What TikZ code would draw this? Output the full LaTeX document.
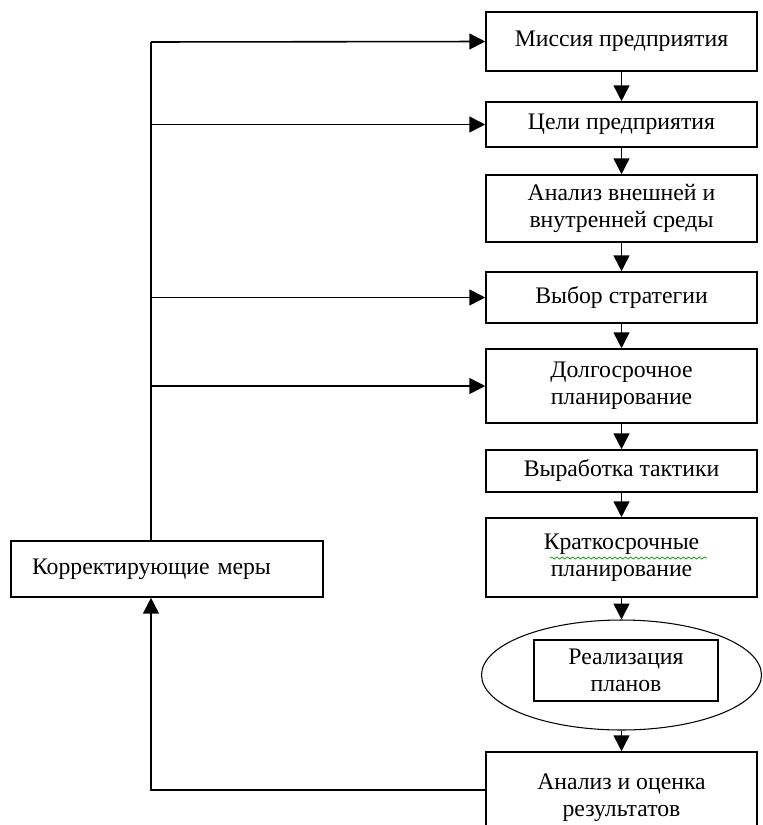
\documentclass[tikz,border=0pt]{standalone}
\usepackage{fontspec}
\setmainfont{Liberation Serif}
\usetikzlibrary{arrows.meta,shapes.geometric,decorations.pathmorphing}

\tikzset{
    blk/.style={draw, line width=0.9pt, minimum width=5.42cm, align=center, inner sep=2pt},
    arr/.style={line width=0.9pt, -{Triangle[length=9pt,width=9pt]}}
}

\begin{document}
\begin{tikzpicture}[x=0.02cm, y=-0.02cm, font=\fontsize{13.5}{15.5}\selectfont]
        \useasboundingbox (0,0) rectangle (763,825);
        \clip (0,0) rectangle (763,825);
        \node[blk, minimum height=1.18cm] (mission) at (621.5,41.5) {Миссия предприятия};
        \node[blk, minimum height=0.9cm] (goals) at (621.5,124.5) {Цели предприятия};
        \node[blk, minimum height=1.34cm] (env) at (621.5,208.5) {Анализ внешней и\\ внутренней среды};
        \node[blk, minimum height=1.02cm] (strat) at (621.5,297.5) {Выбор стратегии};
        \node[blk, minimum height=1.48cm] (longplan) at (621.5,386) {Долгосрочное\\ планирование};
        \node[blk, minimum height=0.84cm] (tactics) at (621.5,471) {Выработка тактики};
        \node[blk, minimum height=1.58cm] (shortplan) at (621.5,557.5) {Краткосрочные\\ планирование};
        \node[draw, ellipse, line width=0.6pt, minimum width=5.6cm, minimum height=2.2cm] (implell) at (621.5,675) {};
        \node[draw, line width=0.9pt, minimum width=3.68cm, minimum height=1.22cm, align=center, inner sep=2pt] (impl) at (626,670.5) {Реализация\\ планов};
        \node[blk, minimum height=1.84cm] (results) at (621.5,798) {Анализ и оценка\\ результатов};
        \node[draw, line width=0.9pt, minimum height=1.12cm, text width=5.4cm, inner xsep=0.42cm, align=left] (corr) at (167,569) {Корректирующие меры};
        \coordinate (bus) at (151,42);
        % spell-check underline
        \draw[green!60!black, line width=0.4pt, decorate, decoration={snake, amplitude=0.6pt, segment length=3pt}] (550,558) -- (707,558);
        % main chain
        \draw[arr] (mission) -- (goals);
        \draw[arr] (goals) -- (env);
        \draw[arr] (env) -- (strat);
        \draw[arr] (strat) -- (longplan);
        \draw[arr] (longplan) -- (tactics);
        \draw[arr] (tactics) -- (shortplan);
        \draw[arr] (shortplan) -- (implell);
        \draw[arr] (implell) -- (results);
        % feedback
        \draw[line width=0.9pt] (bus |- corr.north) -- (bus);
        \draw[arr] (bus) -- (mission.west);
        \draw[arr] (bus |- goals.west) -- (goals.west);
        \draw[arr] (bus |- strat.west) -- (strat.west);
        \draw[arr] (bus |- longplan.west) -- (longplan.west);
        \draw[arr] ([yshift=0.16cm]results.west) -| (bus |- corr.south);
    \end{tikzpicture}
\end{document}
